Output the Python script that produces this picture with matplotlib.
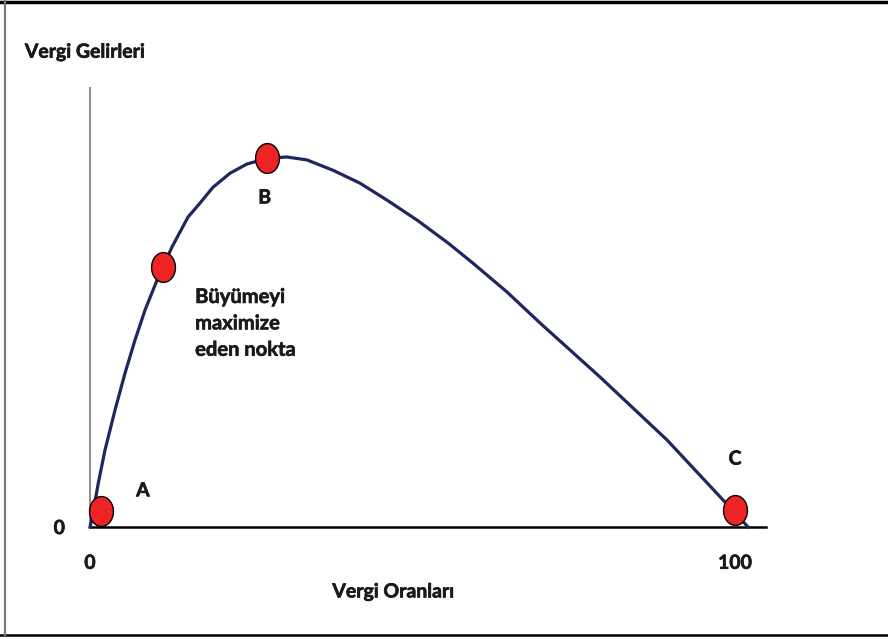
import matplotlib
matplotlib.use('Agg')
import matplotlib.pyplot as plt
import matplotlib.patheffects as pe
from matplotlib.path import Path
from matplotlib.lines import Line2D
import numpy as np

# Laffer curve (x: tax rate, y: tax revenue, peak = 100)
rate = [0, 0.26, 1.29, 2.33, 3.88, 5.43, 6.98, 8.53, 10.39, 12.71, 15.19,
        17.05, 19.07, 21.71, 24.34, 27.60, 30.54, 33.64, 37.67, 41.86, 46.05,
        50.70, 55.50, 59.38, 64.65, 69.77, 79.07, 89.46, 98.14, 102.02]
revenue = [0, 1.9, 11.9, 20.9, 31.7, 41.7, 50.7, 58.8, 66.9, 75.9, 84.0,
           87.8, 92.1, 95.9, 98.4, 100.0, 100.3, 99.5, 96.7, 93.2, 88.6,
           83.2, 77.0, 71.5, 63.7, 55.3, 40.65, 23.58, 7.32, 0]

# highlighted points
point_x = [1.7, 11.3, 27.4, 100]
point_y = [4.3, 70.5, 100, 4.6]

# point letters
letters = ['A', 'B', 'C']
letter_x = [8.2, 27.1, 100]
letter_y = [9.8, 89.2, 18.4]

note = 'Büyümeyi\nmaximize\neden nokta'
xticks = [0, 100]
xtick_labels = ['0', '100']

FONT = 'Lato'
TXT = '#1a1a1a'
CURVE = '#1f2660'
DOT = '#ee2424'
bold = [pe.withStroke(linewidth=0.45, foreground=TXT)]

fig = plt.figure(figsize=(8.88, 6.39), dpi=100)
fig.patch.set_facecolor('white')

# axes: origin at (90, 527) px, bottom axis runs to x=766, left axis up to y=88
W, H = 888.0, 639.0
ax = fig.add_axes([90 / W, (H - 527) / H, 676 / W, 439 / H])
ax.set_xlim(0, 104.8)
ax.set_ylim(0, 119)
ax.set_facecolor('none')

for side in ['top', 'right']:
    ax.spines[side].set_visible(False)
ax.spines['left'].set_color('#8c8c8c')
ax.spines['left'].set_linewidth(1.4)
ax.spines['bottom'].set_color('black')
ax.spines['bottom'].set_linewidth(1.8)

ax.set_xticks(xticks)
ax.set_xticklabels(xtick_labels)
ax.set_yticks([0])
ax.set_yticklabels(['0'])
ax.tick_params(axis='x', length=0, pad=20, labelsize=14)
ax.tick_params(axis='y', length=0, pad=18, labelsize=14)
for lab in ax.get_xticklabels() + ax.get_yticklabels():
    lab.set_fontfamily(FONT)
    lab.set_fontweight('bold')
    lab.set_color(TXT)
    lab.set_path_effects(bold)

ax.plot(rate, revenue, color=CURVE, linewidth=2.3, clip_on=False,
        solid_joinstyle='round', zorder=3)

# elliptic marker, a bit narrower than tall
t = np.linspace(0, 2 * np.pi, 60)
ell = Path(np.column_stack([0.8 * np.cos(t), np.sin(t)]), closed=True)
ax.plot(point_x, point_y, linestyle='none', marker=ell, markersize=21.5,
        markerfacecolor=DOT, markeredgecolor='black', markeredgewidth=1.0,
        clip_on=False, zorder=4)

for s, x, y in zip(letters, letter_x, letter_y):
    ax.text(x, y, s, ha='center', va='center', fontsize=14,
            fontfamily=FONT, fontweight='bold', color=TXT, path_effects=bold)

ax.text(16.3, 55.2, note, ha='left', va='center', multialignment='left',
        fontsize=14.5, linespacing=1.4, fontfamily=FONT, fontweight='bold',
        color=TXT, path_effects=bold)

ax.text(-10.1, 128.7, 'Vergi Gelirleri', ha='left', va='center', fontsize=14,
        fontfamily=FONT, fontweight='bold', color=TXT, path_effects=bold)
ax.text(47.1, -17.6, 'Vergi Oranları', ha='center', va='center', fontsize=14,
        fontfamily=FONT, fontweight='bold', color=TXT, path_effects=bold)

# outer frame of the original picture
fig.add_artist(Line2D([0, 1], [1 - 1.5 / H, 1 - 1.5 / H], color='black',
                      linewidth=2.5, transform=fig.transFigure))
fig.add_artist(Line2D([0, 1], [4 / H, 4 / H], color='black',
                      linewidth=1.8, transform=fig.transFigure))
fig.add_artist(Line2D([5 / W, 5 / W], [4 / H, 1], color='#7a7a7a',
                      linewidth=1.6, transform=fig.transFigure))

fig.savefig('out.png', dpi=100)
